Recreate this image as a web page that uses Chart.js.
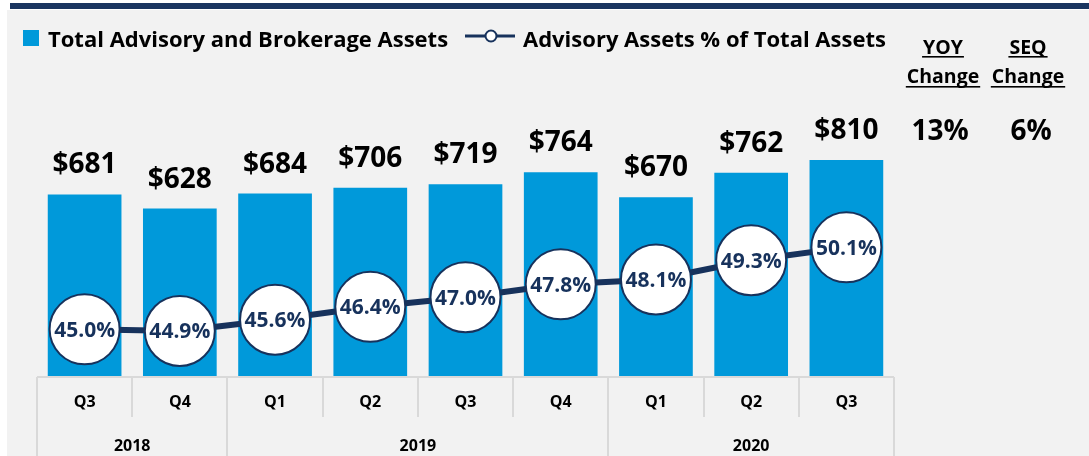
<!DOCTYPE html>
<html><head><meta charset="utf-8">
<script src="https://cdn.jsdelivr.net/npm/chart.js@4/dist/chart.umd.min.js"></script>
<style>
html,body{margin:0;padding:0;background:#fff;}
#wrap{position:relative;width:1089px;height:456px;overflow:hidden;background:#fff;}
#topbar{position:absolute;left:10px;top:3px;width:1079px;height:6px;background:#1a3560;}
#panel{position:absolute;left:7px;top:10px;width:1082px;height:446px;background:#f2f2f2;}
canvas{position:absolute;left:0;top:0;}
</style></head><body>
<div id="wrap"><div id="topbar"></div><div id="panel"></div><canvas id="c" width="1089" height="456"></canvas></div>
<script>
// ---- data ----
const quarters = ['Q3','Q4','Q1','Q2','Q3','Q4','Q1','Q2','Q3'];
const yearLabels = ['2018','2019','2020'];
const yearSpans = [2, 4, 3];
const totalAssets = [681, 628, 684, 706, 719, 764, 670, 762, 810];
const advisoryPct = [45.0, 44.9, 45.6, 46.4, 47.0, 47.8, 48.1, 49.3, 50.1];
const seriesNames = ['Total Advisory and Brokerage Assets', 'Advisory Assets % of Total Assets'];
const changeHeaders = ['YOY', 'SEQ'];
const changeValues = ['13%', '6%'];

const FONT = '"Open Sans", Lato, sans-serif';
const NAVY = '#17325c';
const BLUE = '#0099da';
const GRID = '#d9d9d9';

const overlay = {
  id: 'overlay',
  afterDatasetsDraw(chart) {
    const ctx = chart.ctx;
    const barMeta = chart.getDatasetMeta(1);
    const lineMeta = chart.getDatasetMeta(0);
    ctx.save();
    ctx.textAlign = 'center';
    ctx.font = 'bold 28px ' + FONT;
    ctx.fillStyle = '#000';
    ctx.textBaseline = 'alphabetic';
    barMeta.data.forEach((bar, i) => {
      ctx.fillText('$' + totalAssets[i], bar.x, bar.y - 21);
    });
    ctx.font = 'bold 21px ' + FONT;
    ctx.fillStyle = NAVY;
    ctx.textBaseline = 'alphabetic';
    lineMeta.data.forEach((pt, i) => {
      ctx.fillText(advisoryPct[i].toFixed(1) + '%', pt.x, pt.y + 7.5);
    });
    ctx.restore();
  },
  afterDraw(chart) {
    const ctx = chart.ctx;
    const xs = chart.scales.x;
    const area = chart.chartArea;
    const step = xs.getPixelForValue(1) - xs.getPixelForValue(0);
    const bnd = k => xs.getPixelForValue(k) - step / 2;
    const n = quarters.length;
    const top = area.bottom + 1;
    ctx.save();
    // table lines
    ctx.strokeStyle = GRID;
    ctx.lineWidth = 2;
    ctx.beginPath();
    ctx.moveTo(bnd(0), top); ctx.lineTo(bnd(n), top);
    const yearBounds = [0];
    yearSpans.forEach(s => yearBounds.push(yearBounds[yearBounds.length - 1] + s));
    for (let k = 0; k <= n; k++) {
      const x = Math.round(bnd(k));
      ctx.moveTo(x, top);
      ctx.lineTo(x, yearBounds.includes(k) ? 456 : 417);
    }
    ctx.stroke();
    // year labels
    ctx.font = 'bold 16px ' + FONT;
    ctx.fillStyle = '#000';
    ctx.textAlign = 'center';
    ctx.textBaseline = 'alphabetic';
    yearLabels.forEach((y, i) => {
      const cx = (bnd(yearBounds[i]) + bnd(yearBounds[i + 1])) / 2;
      ctx.fillText(y, cx, 451);
    });
    // legend
    ctx.fillStyle = BLUE;
    ctx.fillRect(23, 30, 16, 16);
    ctx.fillStyle = '#000';
    ctx.textAlign = 'left';
    ctx.textBaseline = 'alphabetic';
    ctx.font = 'bold 22px ' + FONT;
    ctx.fillText(seriesNames[0], 48, 47);
    ctx.strokeStyle = NAVY;
    ctx.lineWidth = 3;
    ctx.beginPath(); ctx.moveTo(465, 36); ctx.lineTo(515, 36); ctx.stroke();
    ctx.beginPath(); ctx.arc(491, 36, 5.5, 0, Math.PI * 2);
    ctx.fillStyle = '#fff'; ctx.fill();
    ctx.lineWidth = 2; ctx.stroke();
    ctx.fillStyle = '#000';
    ctx.fillText(seriesNames[1], 523, 47);
    // change columns
    const cols = [943, 1028];
    ctx.textAlign = 'center';
    ctx.font = 'bold 19.5px ' + FONT;
    const ul = (text, cx, base, uy) => {
      ctx.fillText(text, cx, base);
      const w = ctx.measureText(text).width;
      ctx.fillRect(cx - w / 2 - 1, uy, w + 2, 1.6);
    };
    changeHeaders.forEach((h, i) => {
      ul(h, cols[i], 54, 56);
      ul('Change', cols[i], 83, 86);
    });
    ctx.font = 'bold 28px ' + FONT;
    ctx.fillText(changeValues[0], 940, 140);
    ctx.fillText(changeValues[1], 1031, 140);
    ctx.restore();
  }
};

new Chart(document.getElementById('c'), {
  data: {
    labels: quarters,
    datasets: [
      {
        type: 'line',
        label: seriesNames[1],
        data: advisoryPct,
        yAxisID: 'y2',
        order: 0,
        borderColor: NAVY,
        borderWidth: 6,
        pointRadius: 35,
        pointHoverRadius: 35,
        pointBackgroundColor: '#fff',
        pointBorderColor: NAVY,
        pointBorderWidth: 2,
        tension: 0
      },
      {
        type: 'bar',
        label: seriesNames[0],
        data: totalAssets,
        yAxisID: 'y',
        order: 1,
        backgroundColor: BLUE,
        categoryPercentage: 1,
        barPercentage: 0.774
      }
    ]
  },
  options: {
    responsive: false,
    animation: false,
    layout: { padding: { left: 34, right: 195, top: 56, bottom: 0 } },
    plugins: { legend: { display: false }, tooltip: { enabled: false } },
    scales: {
      x: {
        grid: { display: false, drawTicks: false },
        border: { display: false },
        ticks: { font: { family: FONT, size: 16, weight: 'bold' }, color: '#000', padding: 17, maxRotation: 0 },
        afterFit: s => { s.height = 80; }
      },
      y: { display: false, min: 0, max: 1200 },
      y2: { display: false, position: 'right', min: 42.1, max: 62 }
    }
  },
  plugins: [overlay]
});
</script>
</body></html>
